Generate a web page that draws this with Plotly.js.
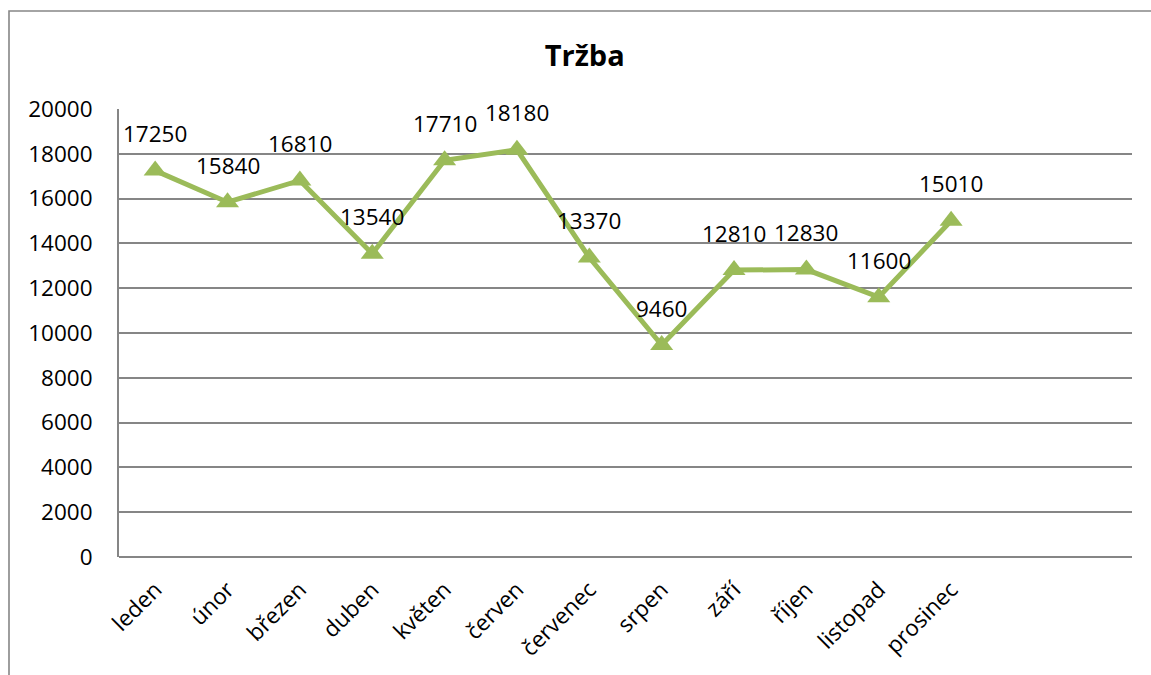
<!DOCTYPE html>
<html>
<head>
<meta charset="utf-8">
<script src="https://cdn.plot.ly/plotly-3.0.1.min.js"></script>
<style>
  html, body { margin: 0; padding: 0; background: #fff; }
  #chart { width: 1151px; height: 675px; }
</style>
</head>
<body>
<div id="chart"></div>
<script>
// months (two empty slots after prosinec, as in the original sheet)
const months = ['leden', 'únor', 'březen', 'duben', 'květen', 'červen',
  'červenec', 'srpen', 'září', 'říjen', 'listopad', 'prosinec'];
const trzba = [17250, 15840, 16810, 13540, 17710, 18180,
  13370, 9460, 12810, 12830, 11600, 15010];
const yTicks = [0, 2000, 4000, 6000, 8000, 10000, 12000, 14000, 16000, 18000, 20000];

const green = '#9BBB59';
const gridGray = '#868686';
const font = 'Open Sans, Noto Sans, sans-serif';

let trace = {
  x: months,
  y: trzba,
  type: 'scatter',
  mode: 'lines+markers',
  line: { color: green, width: 5 },
  marker: { symbol: 'triangle-up', size: 20, color: green },
  hoverinfo: 'x+y'
};

// value labels above each point
let labels = months.map((m, i) => ({
  x: m,
  y: trzba[i],
  xref: 'x',
  yref: 'y',
  text: String(trzba[i]),
  showarrow: false,
  yshift: 37,
  font: { family: font, size: 22.5, color: '#000' }
}));

let layout = {
  width: 1151,
  height: 675,
  margin: { l: 119, r: 19, t: 109, b: 118 },
  paper_bgcolor: '#fff',
  plot_bgcolor: '#fff',
  showlegend: false,
  title: {
    text: '<b>Tržba</b>',
    font: { family: font, size: 29, color: '#000' },
    xref: 'container',
    x: 0.508,
    xanchor: 'center',
    yref: 'container',
    y: 1 - 56 / 675,
    yanchor: 'middle'
  },
  xaxis: {
    type: 'category',
    categoryorder: 'array',
    categoryarray: months,
    range: [-0.5, 13.5],
    showgrid: false,
    zeroline: false,
    showline: false,
    ticks: '',
    tickangle: -45,
    ticklabelstandoff: 14,
    tickfont: { family: font, size: 22.5, color: '#000' },
    fixedrange: true
  },
  yaxis: {
    range: [0, 20000],
    tickvals: yTicks,
    ticktext: yTicks.map(String),
    showgrid: true,
    gridcolor: gridGray,
    gridwidth: 2,
    zeroline: true,
    zerolinecolor: gridGray,
    zerolinewidth: 2,
    showline: true,
    linecolor: gridGray,
    linewidth: 2,
    ticks: '',
    ticklabelstandoff: 20,
    tickfont: { family: font, size: 22.5, color: '#000' },
    fixedrange: true
  },
  annotations: labels,
  shapes: [
    // outer chart border, runs off the right and bottom edge
    {
      type: 'rect',
      xref: 'paper', yref: 'paper',
      x0: (9 - 119) / 1013, x1: 1.2,
      y0: -0.5, y1: (557 - 11) / 448,
      line: { color: gridGray, width: 1.6 },
      layer: 'below'
    }
  ]
};

Plotly.newPlot('chart', [trace], layout, { displayModeBar: false, staticPlot: true });
</script>
</body>
</html>
